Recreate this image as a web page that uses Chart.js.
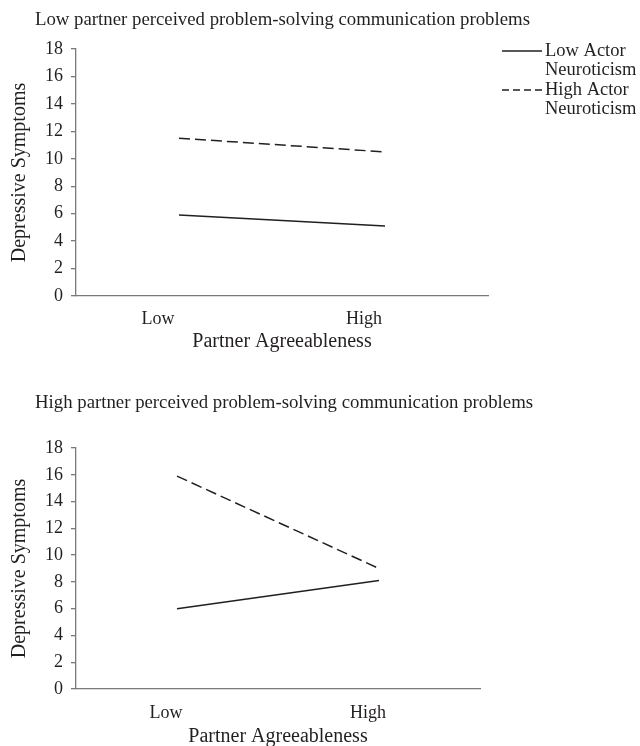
<!DOCTYPE html>
<html><head><meta charset="utf-8">
<script src="https://cdn.jsdelivr.net/npm/chart.js@4"></script>
<style>
html,body{margin:0;padding:0;background:#fff;overflow:hidden;}
#wrap{width:640px;height:746px;position:relative;overflow:hidden;background:#fff;}
canvas{position:absolute;left:0;display:block;}
#c1{top:0;}
#c2{top:373px;}
</style></head><body>
<div id="wrap">
<canvas id="c1" width="640" height="373" style="width:640px;height:373px"></canvas>
<canvas id="c2" width="640" height="390" style="width:640px;height:390px"></canvas>
</div>
<script>
// ---- data ----
const categories = ['Low', 'High'];
const seriesNames = [['Low Actor', 'Neuroticism'], ['High Actor', 'Neuroticism']];
const panelTitles = [
  'Low partner perceived problem-solving communication problems',
  'High partner perceived problem-solving communication problems'
];
const lowPartnerLowActor = [5.9, 5.1];
const lowPartnerHighActor = [11.5, 10.5];
const highPartnerLowActor = [6.0, 8.1];
const highPartnerHighActor = [15.9, 9.0];
const yMin = 0, yMax = 18, yStep = 2;
const yAxisTitle = 'Depressive Symptoms';
const xAxisTitle = 'Partner Agreeableness';

// ---- styles ----
const FONT = '"Liberation Serif", "Times New Roman", serif';
const INK = '#231f20';
const AXIS = '#7a7a7a';
const dashPattern = [11, 5];

const panelTitlePlugin = {
  id: 'panelTitle',
  afterDraw(chart, args, opts) {
    const ctx = chart.ctx;
    ctx.save();
    ctx.font = opts.size + 'px ' + FONT;
    ctx.fillStyle = INK;
    ctx.textBaseline = 'middle';
    ctx.textAlign = 'left';
    ctx.fillText(opts.text, opts.x, opts.y);
    ctx.restore();
  }
};

const sideLegendPlugin = {
  id: 'sideLegend',
  afterDraw(chart, args, opts) {
    if (!opts.show) return;
    const ctx = chart.ctx;
    ctx.save();
    ctx.font = opts.size + 'px ' + FONT;
    ctx.fillStyle = INK;
    ctx.textBaseline = 'middle';
    ctx.textAlign = 'left';
    chart.data.datasets.forEach((ds, i) => {
      const y0 = opts.y + i * 2 * opts.lineGap;
      ctx.beginPath();
      ctx.strokeStyle = ds.borderColor;
      ctx.lineWidth = ds.borderWidth;
      ctx.setLineDash(ds.borderDash && ds.borderDash.length ? [7, 4] : []);
      ctx.moveTo(opts.x, y0);
      ctx.lineTo(opts.x + opts.len, y0);
      ctx.stroke();
      ctx.setLineDash([]);
      ds.legendText.forEach((t, k) => {
        ctx.fillText(t, opts.x + opts.len + 3, y0 + k * opts.lineGap);
      });
    });
    ctx.restore();
  }
};

function makePanel(id, title, lowData, highData, g) {
  const canvasH = document.getElementById(id).height;
  const xAxisBottom = g.xTitleY + 10;
  new Chart(document.getElementById(id), {
    type: 'line',
    data: {
      labels: categories,
      datasets: [
        { data: lowData, legendText: seriesNames[0], borderColor: INK, borderWidth: 1.5,
          borderDash: [], pointRadius: 0, tension: 0, fill: false },
        { data: highData, legendText: seriesNames[1], borderColor: INK, borderWidth: 1.5,
          borderDash: dashPattern, pointRadius: 0, tension: 0, fill: false }
      ]
    },
    options: {
      responsive: false,
      animation: false,
      devicePixelRatio: 1,
      layout: { padding: { left: 0, top: g.top, right: 640 - g.right, bottom: canvasH - xAxisBottom } },
      plugins: {
        legend: { display: false },
        tooltip: { enabled: false },
        panelTitle: { text: title, x: 35, y: g.titleY, size: 18.8 },
        sideLegend: { show: g.legend, x: 502, y: 51, len: 40, lineGap: 19.5, size: 18.5 }
      },
      scales: {
        x: {
          type: 'category',
          offset: true,
          grid: { display: false, drawTicks: false },
          border: { display: true, color: AXIS, width: 1.3 },
          ticks: { color: INK, font: { family: FONT, size: 18 }, padding: g.labelPad, labelOffset: g.labelOffset, maxRotation: 0 },
          title: { display: true, text: xAxisTitle, color: INK, font: { family: FONT, size: 20, lineHeight: 1 }, padding: 0 },
          afterFit(axis) { axis.height = xAxisBottom - g.bottom; }
        },
        y: {
          min: yMin, max: yMax,
          grid: { drawOnChartArea: false, drawTicks: true, tickLength: 5, color: AXIS, lineWidth: 1.3 },
          border: { display: true, color: AXIS, width: 1.3 },
          ticks: { stepSize: yStep, color: INK, font: { family: FONT, size: 18 }, padding: 8 },
          title: { display: true, text: yAxisTitle, color: INK, font: { family: FONT, size: 20, lineHeight: 1.2 }, padding: { top: 8, bottom: 0 } },
          afterFit(axis) { axis.width = 76; }
        }
      }
    },
    plugins: [panelTitlePlugin, sideLegendPlugin]
  });
}

makePanel('c1', panelTitles[0], lowPartnerLowActor, lowPartnerHighActor,
  { top: 49, right: 488, bottom: 296, titleY: 20, xTitleY: 342, labelOffset: -21, labelPad: 12, legend: true });
makePanel('c2', panelTitles[1], highPartnerLowActor, highPartnerHighActor,
  { top: 75, right: 480, bottom: 316, titleY: 30, xTitleY: 364, labelOffset: -11, labelPad: 13, legend: false });
</script>
</body></html>
